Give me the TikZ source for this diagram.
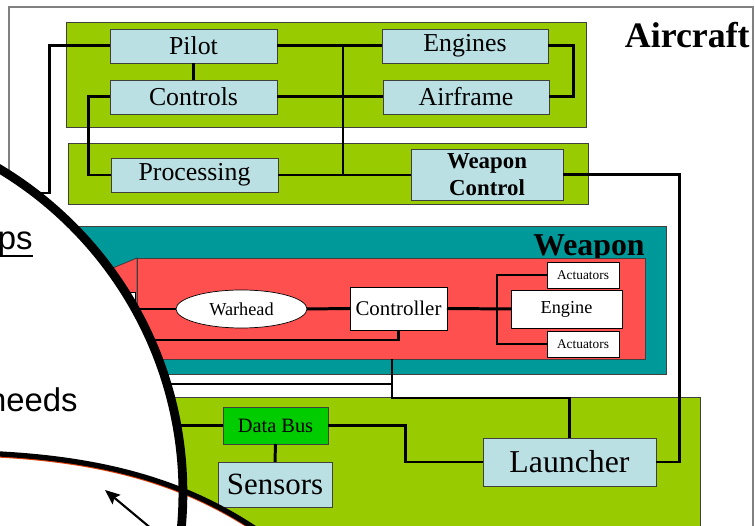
\documentclass[tikz,border=0pt]{standalone}
\usepackage{fontspec}
\setmainfont{Liberation Serif}
\newfontfamily\slidefont{Liberation Sans}
\usepackage{xcolor}
\usepackage{tikz}
\usetikzlibrary{arrows.meta,calc,shapes.geometric}
\definecolor{acGreen}{HTML}{99CC00}
\definecolor{busGreen}{HTML}{00CC00}
\definecolor{paleBlue}{HTML}{BBE0E3}
\definecolor{wpnTeal}{HTML}{009999}
\definecolor{wpnRed}{HTML}{FF5050}
\definecolor{edgeGrey}{HTML}{404040}
\definecolor{frameGrey}{HTML}{808080}
\definecolor{rimOrange}{HTML}{E0400A}
\newcommand{\slideul}[1]{\leavevmode\setbox0=\hbox{#1}\rlap{\rule[-4pt]{\wd0}{1.1pt}}\box0}

\begin{document}
\begin{tikzpicture}[x=0.02cm, y=-0.02cm, >=Stealth,
  font=\fontsize{14.7}{17}\selectfont,
  acbox/.style={draw=edgeGrey,fill=paleBlue,inner sep=0pt,outer sep=0pt,
    minimum width=3.34cm,minimum height=0.68cm},
  wbox/.style={draw=black,fill=white,inner sep=0pt,outer sep=0pt},
  panel/.style={draw=edgeGrey,line width=0.5pt},
  title/.style={anchor=base east,inner sep=0pt},
  wire/.style={line width=1.7pt}]
\useasboundingbox (0,0) rectangle (755,526);
\clip (0,0) rectangle (755,526);
% aircraft frame and panels
\draw[frameGrey,line width=0.8pt,fill=white] (9,7) rectangle (753,560);
\node[title,font=\fontsize{20.4}{24}\selectfont\bfseries] (ttlAircraft) at (750,48) {Aircraft};
\draw[panel,fill=acGreen] (66,22) rectangle (586,127);
\draw[panel,fill=acGreen] (68,143) rectangle (588,204);
% weapon
\draw[panel,fill=wpnTeal] (40,226) rectangle (666,374);
\node[title,font=\fontsize{18.1}{22}\selectfont\bfseries] (ttlWeapon) at (645,256) {Weapon};
\draw[panel,fill=wpnRed] (137,258) -- (40,298) -- (40,359) -- (137,359) -- cycle;
\draw[panel,fill=wpnRed] (137,258) rectangle (645,359);
\draw[fill=white,line width=0.5pt] (100,292) rectangle (135,306);
% launch platform
\draw[panel,fill=acGreen] (60,397) rectangle (700,560);

% aircraft systems
\node[acbox] (pilot) at (193.5,46) {Pilot};
\node[acbox] (controls) at (193.5,97) {Controls};
\node[acbox,minimum width=3.32cm] (engines) at (465,46) {Engines};
\node[acbox,minimum width=3.32cm] (airframe) at (466,97) {Airframe};
\node[acbox] (processing) at (194.5,175) {Processing};
\node[acbox,minimum width=3.04cm,minimum height=1.02cm,align=center,
  font=\fontsize{13}{15.3}\selectfont\bfseries] (wpnCtrl) at (487,174.5) {Weapon\\Control};
% weapon parts
\node[wbox,ellipse,minimum width=2.62cm,minimum height=0.76cm,
  font=\fontsize{10.4}{12}\selectfont] (warhead) at (241.5,309) {Warhead};
\node[wbox,minimum width=1.94cm,minimum height=0.86cm,
  font=\fontsize{11.9}{14}\selectfont] (controller) at (398.5,308.5) {Controller};
\node[wbox,minimum width=2.22cm,minimum height=0.76cm,
  font=\fontsize{10.4}{12}\selectfont] (engine) at (566.5,309) {Engine};
\node[wbox,minimum width=1.44cm,minimum height=0.52cm,
  font=\fontsize{7.6}{9}\selectfont] (actTop) at (583,275) {Actuators};
\node[wbox,minimum width=1.44cm,minimum height=0.52cm,
  font=\fontsize{7.6}{9}\selectfont] (actBot) at (583,344) {Actuators};
% platform
\node[draw=edgeGrey,fill=busGreen,inner sep=0pt,outer sep=0pt,minimum width=2.1cm,
  minimum height=0.74cm,font=\fontsize{11.6}{14}\selectfont] (dataBus) at (275.5,425.5) {Data Bus};
\node[acbox,minimum width=2.28cm,minimum height=0.9cm,
  font=\fontsize{17.6}{21}\selectfont] (sensors) at (275,484.5) {Sensors};
\node[acbox,minimum width=3.46cm,minimum height=0.96cm,
  font=\fontsize{18.1}{22}\selectfont] (launcher) at (569.5,462) {Launcher};

% wiring
\coordinate (acBus) at (343,46);
\coordinate (pilotOut) at (0,193);
\coordinate (warheadOut) at (0,309);
\coordinate (ctrlOut) at (0,340);
\coordinate (actBus) at (497,309);
\coordinate (wpnLink) at (392,359);
\coordinate (wpnRail) at (0,398);
\coordinate (leftLink) at (0,384);
\coordinate (busOut) at (0,425.5);
\draw[wire] (pilot.south) -- (controls.north);
\draw[wire] (pilot.east) -- (engines.west);
\draw[wire] (controls.east) -- (airframe.west);
\draw[wire] (engines.east) -- ++(26,0) |- (airframe.east);
\draw[wire] (acBus |- pilot.east) -- (acBus |- processing.east);
\draw[wire] (processing.east) -- (processing.east -| wpnCtrl.west);
\draw[wire] (controls.west) -- ++(-22,0) |- (processing.west);
\draw[wire] (pilot.west) -- ++(-61,0) |- (pilotOut);
\draw[wire] (wpnCtrl.east) -- ++(117,0) |- (launcher.east);
\draw[wire] (warhead.west) -- (warheadOut);
\draw[wire] (warhead.east) -- (controller.west);
\draw[wire] (controller.east) -- (engine.west);
\draw[wire] (actTop.west) -| (actBus) |- (actBot.west);
\draw[wire] (controller.south) |- (ctrlOut);
\draw[wire] (wpnLink) |- (launcher.north |- wpnRail) -- (launcher.north);
\draw[wire] (wpnLink |- leftLink) -- (leftLink);
\draw[wire] (dataBus.west) -- (busOut);
\draw[wire] (dataBus.east) -- ++(78,0) |- (launcher.west);
\draw[wire] (dataBus.south) -- (sensors.north);

% zoom lens over the left side
\fill[white] (-195,493) circle[radius=7.56cm];
\fill[white] (0,454) .. controls (110,460) and (190,484) .. (260,532) -- (0,540) -- cycle;
\draw[rimOrange,line width=2.6pt,yshift=-0.8pt] (0,454) .. controls (110,460) and (190,484) .. (260,532);
\draw[line width=3pt] (0,454) .. controls (110,460) and (190,484) .. (260,532);
\draw[line width=5pt] (-195,493) circle[radius=7.56cm];
\node[title,font=\slidefont\fontsize{18.7}{22}\selectfont] (tailPs) at (33,250) {\slideul{ps}};
\node[title,font=\slidefont\fontsize{18.7}{22}\selectfont] (tailNeeds) at (78,412) {needs};
\coordinate (arrowTail) at (153,530);
\coordinate (arrowTip) at (105,490);
\draw[line width=1.2pt,-{Stealth[length=8.5pt,width=7pt,inset=1.5pt]}] (arrowTail) -- (arrowTip);
\end{tikzpicture}
\end{document}
